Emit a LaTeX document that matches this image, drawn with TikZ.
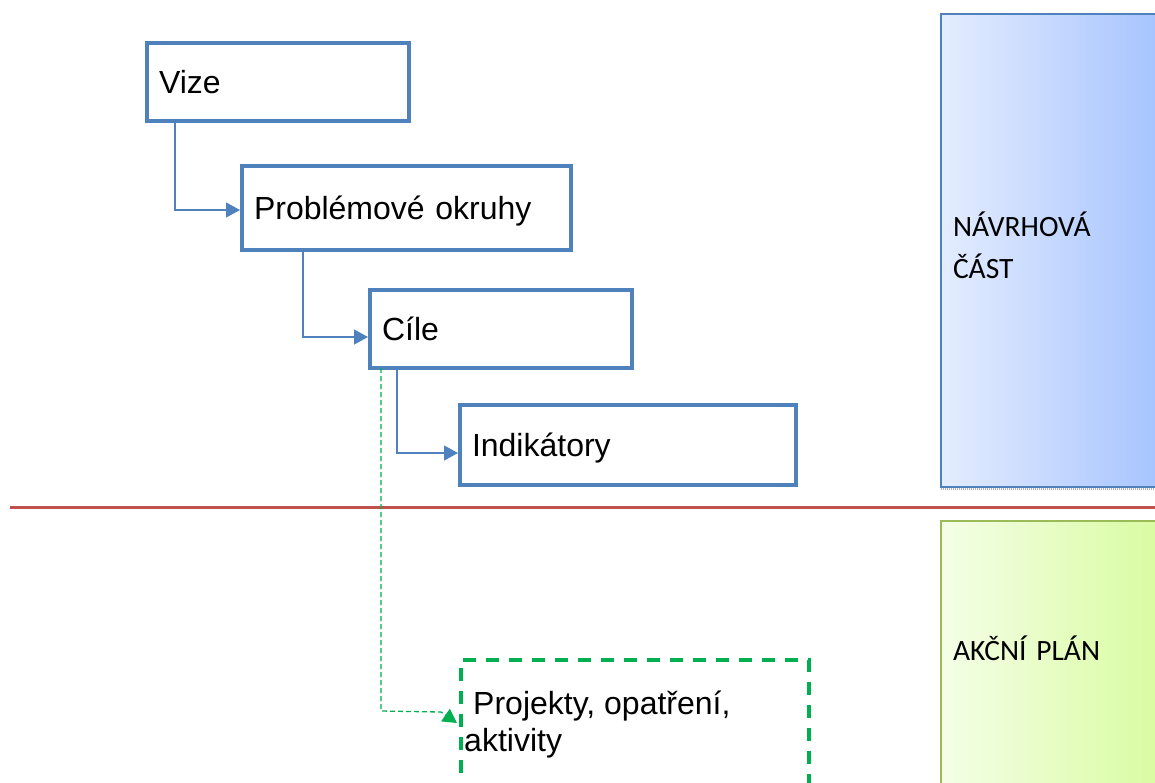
\documentclass[tikz,border=0pt]{standalone}
\usepackage{fontspec}
\newfontfamily\arialf{Liberation Sans}
\newfontfamily\calib{Carlito}
\usetikzlibrary{arrows.meta,shadings}
\definecolor{boxblue}{HTML}{4F81BD}
\definecolor{redline}{HTML}{C0504D}
\definecolor{dgreen}{HTML}{00B050}
\definecolor{panelgreen}{HTML}{9BBB59}
\definecolor{bl}{HTML}{E4EDFF}
\definecolor{br}{HTML}{A4C2FF}
\definecolor{gl}{HTML}{F4FEE7}
\definecolor{gr}{HTML}{D8FC9E}
\tikzset{
  box/.style={draw=boxblue, line width=4pt, outer sep=0pt, inner ysep=0pt, inner xsep=12pt,
    align=left, text height=23pt, text depth=0pt, font=\arialf\fontsize{32}{37}\selectfont},
  conn/.style={draw=boxblue, line width=1.3pt, -{Triangle[length=14pt,width=15pt]}, shorten >=2pt},
  gconn/.style={draw=dgreen, line width=1.3pt, dash pattern=on 5pt off 3pt, -{Triangle[length=14pt,width=15pt]}},
  panel/.style={line width=1.5pt, outer sep=0pt, inner xsep=12pt, inner ysep=0pt, align=left,
    font=\calib\fontsize{29.5}{42}\selectfont},
  gbox/.style={draw=dgreen, line width=4.5pt, dash pattern=on 13pt off 10pt, outer sep=0pt},
}
\begin{document}
\begin{tikzpicture}[x=1pt,y=-1pt]
\useasboundingbox (0,0) rectangle (1155,782);
\clip (0,0) rectangle (1155,782);
% panels
\node[panel, draw=boxblue, left color=bl, right color=br, minimum width=229pt, minimum height=473pt]
  (navrh) at (1055.5,250.5) {};
\node[panel, anchor=north west, inner sep=0pt, text width=205pt] (navrhtxt) at (953,212) {NÁVRHOVÁ\\ČÁST};
\draw[draw=gray!60, line width=2pt, dash pattern=on 1pt off 1pt] ([yshift=-2pt]navrh.south west) -- ([yshift=-2pt]navrh.south east);
\node[panel, draw=panelgreen, left color=gl, right color=gr, minimum width=229pt, minimum height=278pt, text width=205pt,
  text height=18pt, text depth=18pt]
  (akcni) at (1055.5,660) {AKČNÍ PLÁN};
% red line
\coordinate (rl) at (10,507);
\coordinate (rr) at (1160,507);
\draw[redline, line width=3pt] (rl) -- (rr);
% boxes
\node[box, minimum width=262pt, minimum height=78pt, text width=238pt] (vize) at (278,82) {Vize};
\node[box, minimum width=329pt, minimum height=84pt, text width=305pt] (prob) at (406.5,208) {Problémové okruhy};
\node[box, minimum width=262pt, minimum height=78pt, text width=238pt] (cile) at (501,329) {Cíle};
\node[box, minimum width=336pt, minimum height=80pt, text width=312pt] (ind) at (628,445) {Indikátory};
% green dashed box
\node[gbox, minimum width=348pt, minimum height=170pt] (proj) at (635,745) {};
\node[anchor=north west, inner sep=0pt, align=left, font=\arialf\fontsize{32}{37}\selectfont]
  (projtxt) at (464,691) {\hspace*{9pt}Projekty, opatření,\\aktivity};
% connectors
\draw[conn] ([xshift=28pt]vize.south west) |- ([yshift=-2pt]prob.west);
\draw[conn] ([xshift=61pt]prob.south west) |- ([yshift=-8pt]cile.west);
\draw[conn] ([xshift=27pt]cile.south west) |- ([yshift=-8pt]ind.west);
\coordinate (gturn) at (381,711);
\coordinate (gmid) at (441,712);
\draw[gconn] ([xshift=11pt]cile.south west) -- (gturn) -- (gmid) -- ([xshift=-4pt,yshift=-63pt]proj.north west);
\end{tikzpicture}
\end{document}
